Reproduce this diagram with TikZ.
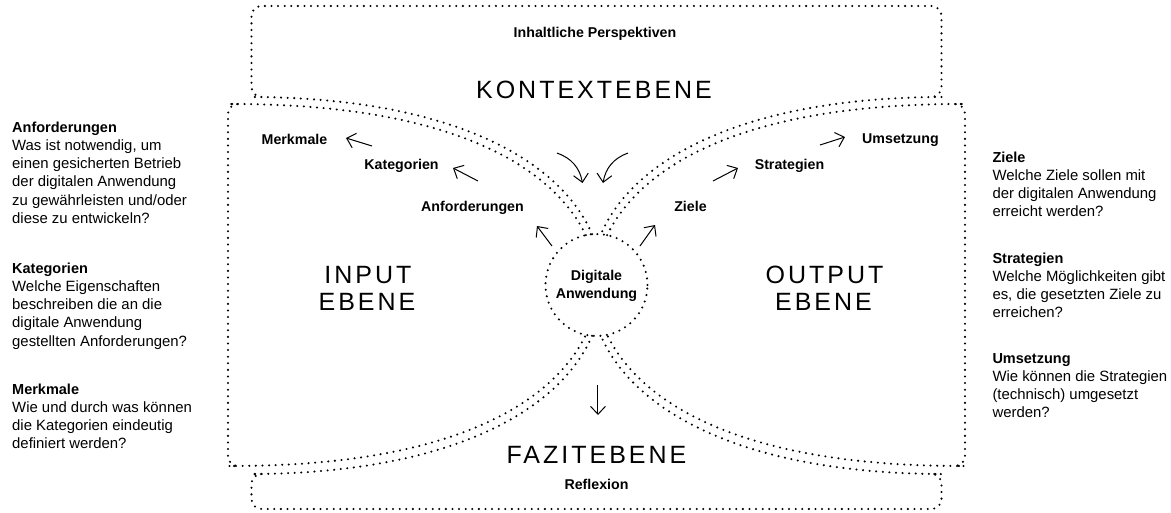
\documentclass[tikz,border=0pt]{standalone}
\usepackage{fontspec}
\setmainfont{Liberation Sans}
\newfontfamily\spacedfont[LetterSpace=12]{Liberation Sans}
\newcommand\headfont{\fontsize{14.5}{18.2}\selectfont\bfseries}
\usetikzlibrary{arrows.meta}
\begin{document}
\begin{tikzpicture}[x=1pt,y=1pt,
  dotline/.style={line width=2.3pt, line cap=round, dash pattern=on 0pt off 6.6pt, rounded corners=10pt},
  lbl/.style={font=\fontsize{14.2}{17.6}\selectfont\bfseries, inner sep=0pt, anchor=base},
  level/.style={font=\fontsize{25}{29}\selectfont\spacedfont, inner sep=0pt, anchor=base},
  side/.style={font=\fontsize{14.9}{18.2}\selectfont, align=left, anchor=base west, inner sep=0pt},
  flow/.style={line width=1pt, -{Straight Barb[length=8pt,width=15pt]}}
]
\useasboundingbox (-596.5,-227) rectangle (574.5,285);

% central element
\node[circle, draw, dotline, minimum size=102pt, inner sep=0pt] (app) at (0,0) {};
\node[lbl] (app1) at (0,4.3) {Digitale};
\node[lbl] (app2) at (0,-13.3) {Anwendung};

% context level (top)
\draw[dotline] (-4.4,50.8) .. controls (-36,124) and (-140,183) .. (-335,188)
  -- (-345,188) -- (-345,279) -- (345,279) -- (345,188) -- (335,188)
  .. controls (140,183) and (36,124) .. (4.4,50.8);
% input level (left)
\draw[dotline] (-10.6,49.9) .. controls (-45,120) and (-146,178) .. (-358,181)
  -- (-368.5,181) -- (-368.5,-181) -- (-358,-181)
  .. controls (-146,-178) and (-45,-120) .. (-10.6,-49.9);
% output level (right)
\draw[dotline] (10.6,49.9) .. controls (45,120) and (146,178) .. (358,181)
  -- (368.5,181) -- (368.5,-181) -- (358,-181)
  .. controls (146,-178) and (45,-120) .. (10.6,-49.9);
% conclusion level (bottom)
\draw[dotline] (-4.4,-50.8) .. controls (-36,-124) and (-140,-184) .. (-335,-189)
  -- (-345,-189) -- (-345,-224) -- (345,-224) -- (345,-189) -- (335,-189)
  .. controls (140,-184) and (36,-124) .. (4.4,-50.8);

% level titles
\node[lbl] (persp) at (-1.5,247) {Inhaltliche Perspektiven};
\node[level] (kontext) at (-2.5,186) {KONTEXTEBENE};
\node[level] (input1) at (-228.5,2) {INPUT};
\node[level] (input2) at (-229.5,-25) {EBENE};
\node[level] (output1) at (228,2) {OUTPUT};
\node[level] (output2) at (227,-25) {EBENE};
\node[level] (fazit) at (0,-178) {FAZITEBENE};
\node[lbl] (reflex) at (0,-204) {Reflexion};

% input steps
\node[lbl] (merk) at (-302,141) {Merkmale};
\node[lbl] (kat) at (-195,116) {Kategorien};
\node[lbl] (anf) at (-124,73.3) {Anforderungen};
% output steps
\node[lbl] (ziele) at (94,73.3) {Ziele};
\node[lbl] (strat) at (193,116) {Strategien};
\node[lbl] (ums) at (304,141.7) {Umsetzung};

% arrow end points
\coordinate (a1t) at (-224.5,139);  \coordinate (a1h) at (-250.5,147);
\coordinate (a2t) at (-118.5,104);  \coordinate (a2h) at (-143.5,117);
\coordinate (a3t) at (-44.5,39);    \coordinate (a3h) at (-59.5,59);
\coordinate (a4t) at (43.5,39);     \coordinate (a4h) at (58.5,60);
\coordinate (a5t) at (116.5,104);   \coordinate (a5h) at (141.5,117);
\coordinate (a6t) at (223.5,140);   \coordinate (a6h) at (248.5,148);
\coordinate (c1t) at (-39.5,132);   \coordinate (c1h) at (-14,102);
\coordinate (c2t) at (31.5,132);    \coordinate (c2h) at (6.5,102);
\coordinate (dt) at (1.5,-100);     \coordinate (dh) at (1.5,-130);

\draw[flow] (a1t) -- (a1h);
\draw[flow] (a2t) -- (a2h);
\draw[flow] (a3t) -- (a3h);
\draw[flow] (a4t) -- (a4h);
\draw[flow] (a5t) -- (a5h);
\draw[flow] (a6t) -- (a6h);
\draw[flow] (c1t) to[bend left=30] (c1h);
\draw[flow] (c2t) to[bend right=30] (c2h);
\draw[flow] (dt) -- (dh);

% explanations, left (anchored at the baseline of the last line)
\node[side] (tanf) at (-584.5,61.7) {{\headfont Anforderungen}\\Was ist notwendig, um\\einen gesicherten Betrieb\\der digitalen Anwendung\\zu gewährleisten und/oder\\diese zu entwickeln?};
\node[side] (tkat) at (-584.5,-61.1) {{\headfont Kategorien}\\Welche Eigenschaften\\beschreiben die an die\\digitale Anwendung\\gestellten Anforderungen?};
\node[side] (tmerk) at (-584.5,-163.9) {{\headfont Merkmale}\\Wie und durch was können\\die Kategorien eindeutig\\definiert werden?};
% explanations, right
\node[side] (tziele) at (395.8,68.1) {{\headfont Ziele}\\Welche Ziele sollen mit\\der digitalen Anwendung\\erreicht werden?};
\node[side] (tstrat) at (395.8,-32.6) {{\headfont Strategien}\\Welche Möglichkeiten gibt\\es, die gesetzten Ziele zu\\erreichen?};
\node[side] (tums) at (395.8,-132.6) {{\headfont Umsetzung}\\Wie können die Strategien\\(technisch) umgesetzt\\werden?};
\end{tikzpicture}
\end{document}
